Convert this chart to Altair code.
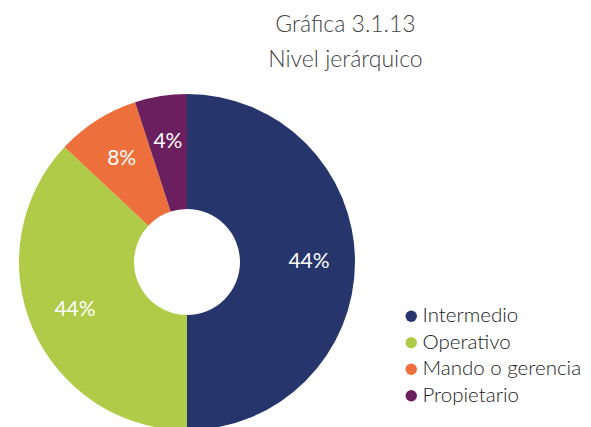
import altair as alt
import pandas as pd

categories = ["Intermedio", "Operativo", "Mando o gerencia", "Propietario"]
shares = [50, 37, 8, 5]          # visual share of each slice
labels = ["44%", "44%", "8%", "4%"]
colors = ["#26366C", "#AFCB48", "#ED6F3C", "#6C1F5F"]

df = pd.DataFrame({
    "categoria": categories,
    "valor": shares,
    "etiqueta": labels,
    "orden": list(range(len(categories))),
})

FONT = "Lato"

base = alt.Chart(df).encode(
    theta=alt.Theta("valor:Q", stack=True),
    order=alt.Order("orden:Q", sort="ascending"),
    x=alt.value(179),
    y=alt.value(254),
)

arcs = base.mark_arc(innerRadius=53, outerRadius=168, stroke=None).encode(
    color=alt.Color(
        "categoria:N",
        scale=alt.Scale(domain=categories, range=colors),
        sort=categories,
        legend=alt.Legend(
            title=None,
            orient="none",
            legendX=393,
            legendY=298,
            symbolType="circle",
            symbolSize=130,
            symbolStrokeWidth=0,
            labelFont=FONT,
            labelFontSize=20.5,
            labelColor="#222222",
            labelFontWeight=300,
            labelLimit=400,
            rowPadding=5.5,
            labelOffset=1,
        ),
    )
)

texts = base.mark_text(
    radius=122, font=FONT, fontSize=21, fontWeight=400, color="white"
).encode(text="etiqueta:N")

chart = (
    alt.layer(arcs, texts)
    .properties(
        width=575,
        height=419,
        autosize=alt.AutoSizeParams(type="none"),
        padding=0,
        title=alt.TitleParams(
            text=["Gráfica 3.1.13", "Nivel jerárquico"],
            anchor="middle",
            dx=50,
            dy=0,
            font=FONT,
            fontSize=23,
            fontWeight=300,
            color="#444444",
            lineHeight=35,
            offset=-64,
        ),
    )
    .configure_view(stroke=None)
)

chart.save("out.html", embed_options={"renderer": "svg", "actions": False})
